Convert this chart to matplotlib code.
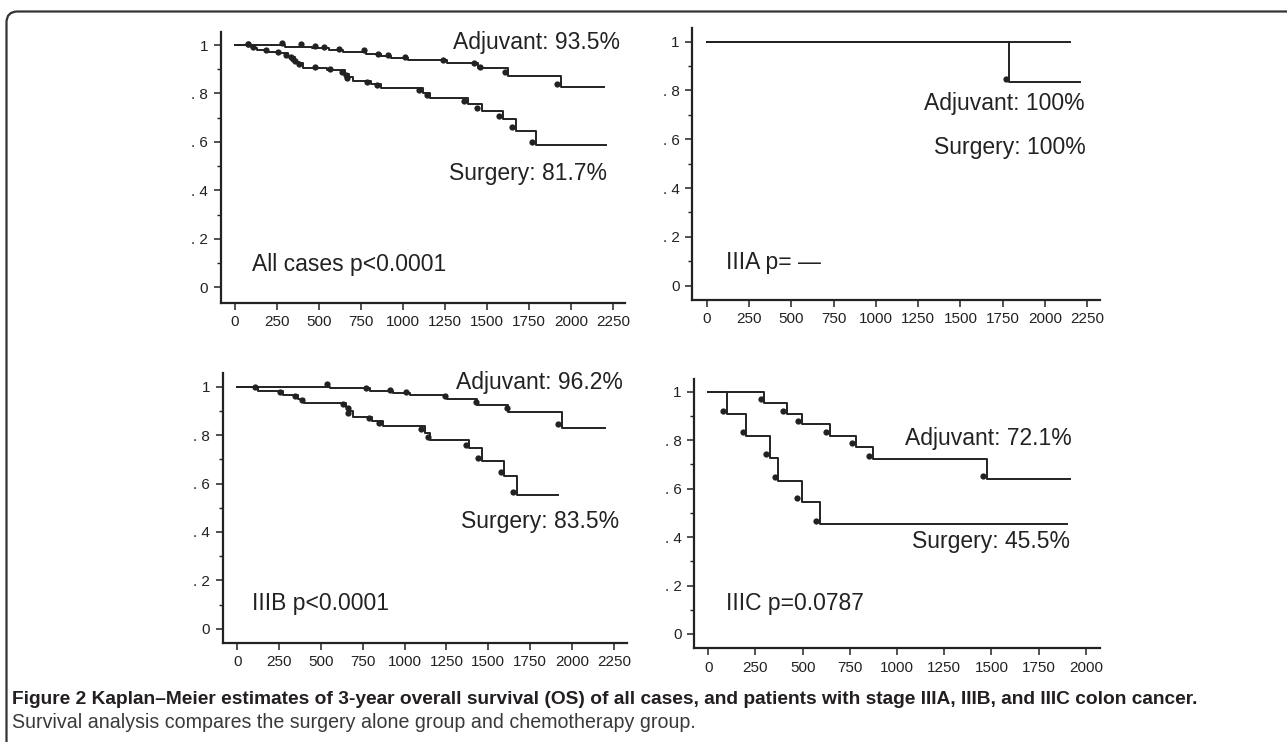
import numpy as np
import matplotlib
matplotlib.use('Agg')
import matplotlib.pyplot as plt
from matplotlib.patches import FancyBboxPatch
from matplotlib.transforms import IdentityTransform

# ---- data (days, survival proportion) ----
# All cases
adj1_t = [0, 300, 460, 560, 640, 780, 870, 930, 1030, 1260, 1445, 1625, 1940, 2195]
adj1_s = [1.0, 0.993, 0.986, 0.979, 0.972, 0.963, 0.955, 0.945, 0.938, 0.924, 0.905, 0.872, 0.825, 0.825]
adj1_mt = [79, 281, 390, 476, 529, 618, 767, 852, 912, 1011, 1239, 1421, 1457, 1609, 1917]
adj1_ms = [1.003, 1.01, 1.003, 0.996, 0.992, 0.985, 0.979, 0.963, 0.957, 0.950, 0.938, 0.924, 0.909, 0.889, 0.840]
sur1_t = [0, 95, 119, 129, 194, 268, 317, 357, 381, 407, 545, 654, 680, 700, 809, 868,
          1120, 1160, 1388, 1467, 1596, 1670, 1789, 2205]
sur1_s = [1.0, 0.993, 0.986, 0.979, 0.972, 0.966, 0.952, 0.931, 0.924, 0.906, 0.895, 0.882, 0.866, 0.850,
          0.838, 0.821, 0.800, 0.780, 0.757, 0.729, 0.693, 0.646, 0.587, 0.587]
sur1_mt = [79, 105, 182, 258, 303, 331, 347, 357, 381, 476, 565, 634, 658, 668, 787, 846,
           1096, 1140, 1364, 1441, 1572, 1649, 1768]
sur1_ms = [1.006, 0.992, 0.979, 0.970, 0.959, 0.949, 0.941, 0.934, 0.922, 0.911, 0.900, 0.889,
           0.876, 0.865, 0.847, 0.834, 0.813, 0.792, 0.770, 0.741, 0.706, 0.660, 0.601]

# IIIA
adj2_t = [0, 2147]
adj2_s = [1.0, 1.0]
adj2_mt, adj2_ms = [], []
sur2_t = [0, 1789, 2206]
sur2_s = [1.0, 0.833, 0.833]
sur2_mt = [1767]
sur2_ms = [0.845]

# IIIB
adj3_t = [0, 557, 792, 932, 1031, 1255, 1430, 1615, 1940, 2196]
adj3_s = [1.0, 0.993, 0.983, 0.972, 0.966, 0.948, 0.926, 0.897, 0.831, 0.831]
adj3_mt = [106, 534, 769, 912, 1011, 1240, 1424, 1609, 1917]
adj3_ms = [0.999, 1.01, 0.996, 0.986, 0.979, 0.962, 0.938, 0.911, 0.846]
sur3_t = [0, 125, 275, 364, 398, 647, 663, 693, 808, 872, 1121, 1151, 1385, 1465, 1594, 1673, 1917]
sur3_s = [1.0, 0.983, 0.966, 0.948, 0.931, 0.917, 0.901, 0.876, 0.860, 0.838, 0.810, 0.780,
          0.746, 0.695, 0.633, 0.553, 0.553]
sur3_mt = [255, 344, 384, 629, 663, 663, 788, 846, 1095, 1141, 1366, 1440, 1573, 1649]
sur3_ms = [0.979, 0.962, 0.945, 0.928, 0.911, 0.890, 0.869, 0.851, 0.824, 0.794, 0.759, 0.707, 0.649, 0.567]

# IIIC
adj4_t = [0, 297, 418, 494, 644, 782, 874, 1479, 1916]
adj4_s = [1.0, 0.955, 0.908, 0.867, 0.818, 0.773, 0.722, 0.640, 0.640]
adj4_mt = [277, 397, 473, 621, 761, 853, 1457]
adj4_ms = [0.968, 0.922, 0.880, 0.835, 0.787, 0.734, 0.653]
sur4_t = [0, 97, 200, 327, 371, 494, 591, 1898]
sur4_s = [1.0, 0.908, 0.818, 0.728, 0.633, 0.546, 0.454, 0.454]
sur4_mt = [76, 182, 305, 353, 471, 570]
sur4_ms = [0.922, 0.835, 0.741, 0.649, 0.560, 0.466]

adj_labels = ['Adjuvant: 93.5%', 'Adjuvant: 100%', 'Adjuvant: 96.2%', 'Adjuvant: 72.1%']
sur_labels = ['Surgery: 81.7%', 'Surgery: 100%', 'Surgery: 83.5%', 'Surgery: 45.5%']
p_labels = ['All cases p<0.0001', 'IIIA p= \u2014', 'IIIB p<0.0001', 'IIIC p=0.0787']
y_ticks = [0, 0.2, 0.4, 0.6, 0.8, 1.0]
y_ticklabels = ['0', '. 2', '. 4', '. 6', '. 8', '1']

font = 'Liberation Sans'
ink = '#222222'

fig = plt.figure(figsize=(12.87, 7.42), dpi=100)

panels = [
    dict(rect=[0.1715, 0.592, 0.3141, 0.3653], xlim=(-85, 2320), ylim=(-0.064, 1.055), xmax=2250,
         curves=[(adj1_t, adj1_s, adj1_mt, adj1_ms), (sur1_t, sur1_s, sur1_mt, sur1_ms)],
         adj_pos=(2290, 1.009), sur_pos=(2211, 0.468), p_pos=(99, 0.095)),
    dict(rect=[0.5379, 0.5957, 0.3168, 0.3662], xlim=(-85, 2325), ylim=(-0.059, 1.055), xmax=2250,
         curves=[(adj2_t, adj2_s, adj2_mt, adj2_ms), (sur2_t, sur2_s, sur2_mt, sur2_ms)],
         adj_pos=(2236, 0.745), sur_pos=(2240, 0.568), p_pos=(114, 0.093)),
    dict(rect=[0.1730, 0.1338, 0.3139, 0.3631], xlim=(-87, 2326), ylim=(-0.057, 1.055), xmax=2250,
         curves=[(adj3_t, adj3_s, adj3_mt, adj3_ms), (sur3_t, sur3_s, sur3_mt, sur3_ms)],
         adj_pos=(2302, 1.017), sur_pos=(2282, 0.443), p_pos=(86, 0.106)),
    dict(rect=[0.5392, 0.1263, 0.3155, 0.3625], xlim=(-76, 2075), ylim=(-0.059, 1.051), xmax=2000,
         curves=[(adj4_t, adj4_s, adj4_mt, adj4_ms), (sur4_t, sur4_s, sur4_mt, sur4_ms)],
         adj_pos=(1925, 0.808), sur_pos=(1916, 0.381), p_pos=(93, 0.127)),
]

for i, p in enumerate(panels):
    ax = fig.add_axes(p['rect'])
    for t, s, mt, ms in p['curves']:
        ax.step(t, s, where='post', color=ink, lw=1.4)
        if mt:
            ax.plot(mt, ms, 'o', color=ink, ms=4.5, mew=0)
    ax.set_xlim(*p['xlim'])
    ax.set_ylim(*p['ylim'])
    ax.set_xticks(np.arange(0, p['xmax'] + 1, 250))
    ax.set_yticks(y_ticks)
    ax.set_yticklabels(y_ticklabels)
    ax.set_yticks(np.arange(0.1, 1.0, 0.2), minor=True)
    for lab in ax.get_xticklabels() + ax.get_yticklabels():
        lab.set_fontfamily(font)
        lab.set_fontsize(11)
        lab.set_color(ink)
    ax.tick_params(which='major', length=5, width=1.1, color=ink, pad=4)
    ax.tick_params(which='minor', length=3, width=1.0, color=ink)
    ax.spines['top'].set_visible(False)
    ax.spines['right'].set_visible(False)
    for sp in ['left', 'bottom']:
        ax.spines[sp].set_linewidth(1.6)
        ax.spines[sp].set_color(ink)
    ax.text(*p['adj_pos'], adj_labels[i], ha='right', va='center', fontsize=16.5,
            family=font, color=ink)
    ax.text(*p['sur_pos'], sur_labels[i], ha='right', va='center', fontsize=16.5,
            family=font, color=ink)
    ax.text(*p['p_pos'], p_labels[i], ha='left', va='center', fontsize=16.5,
            family=font, color=ink)

# rounded frame (only top and left edges fall inside the picture)
frame = FancyBboxPatch((6.5, -30), 1400, 742 - 11.5 + 30,
                       boxstyle='round,pad=0,rounding_size=11',
                       transform=IdentityTransform(), fill=False, ec='#333333', lw=1.6)
fig.add_artist(frame)

fig.text(12 / 1287, 1 - 700 / 742,
         'Figure 2 Kaplan\u2013Meier estimates of 3-year overall survival (OS) of all cases, '
         'and patients with stage IIIA, IIIB, and IIIC colon cancer.',
         ha='left', va='center', fontsize=13.75, fontweight='bold', family=font,
         color='#231f20')
fig.text(12 / 1287, 1 - 722 / 742,
         'Survival analysis compares the surgery alone group and chemotherapy group.',
         ha='left', va='center', fontsize=14.1, family=font, color='#3a3a3a')

fig.savefig('out.png', dpi=100)
